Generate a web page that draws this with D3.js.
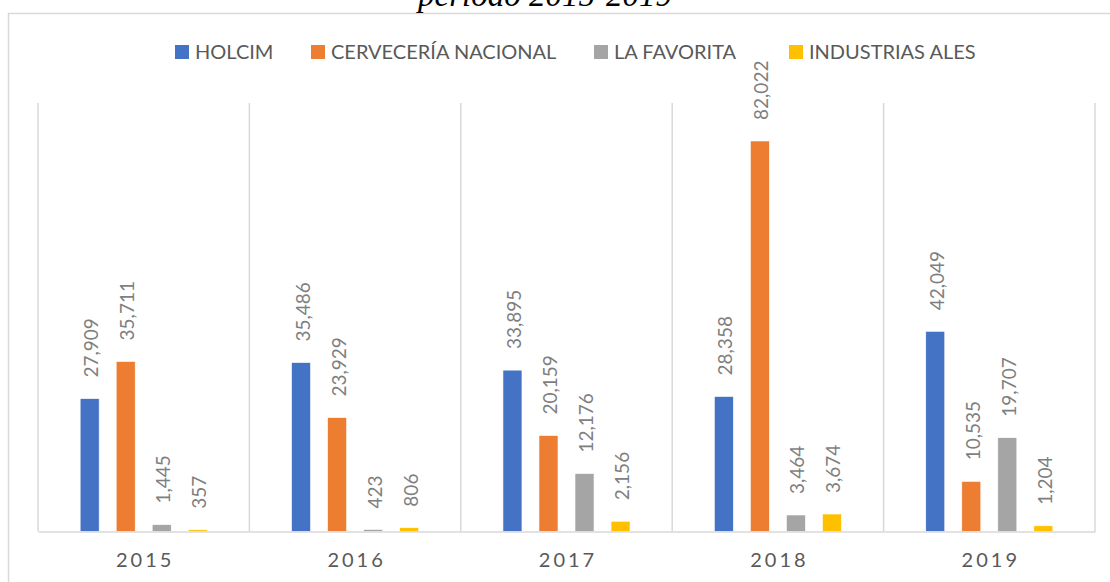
<!DOCTYPE html>
<meta charset="utf-8">
<style>
  body { margin: 0; background: #fff; }
  text { font-family: Lato, "Open Sans", sans-serif; }
  .title { font-family: "Liberation Serif", "Times New Roman", serif; font-style: italic; font-size: 33px; fill: #000; }
  .legend text { font-size: 20px; fill: #595959; }
  .cat { font-size: 20px; fill: #595959; letter-spacing: 3px; }
  .lbl { font-size: 19px; fill: #7f7f7f; }
</style>
<body>
<script src="https://d3js.org/d3.v7.min.js"></script>
<script>
// values
var years = ["2015", "2016", "2017", "2018", "2019"];
var seriesNames = ["HOLCIM", "CERVECERÍA NACIONAL", "LA FAVORITA", "INDUSTRIAS ALES"];
var holcim = [27909, 35486, 33895, 28358, 42049];
var cerveceria = [35711, 23929, 20159, 82022, 10535];
var favorita = [1445, 423, 12176, 3464, 19707];
var ales = [357, 806, 2156, 3674, 1204];
var colors = ["#4472c4", "#ed7d31", "#a5a5a5", "#ffc000"];

var allSeries = [holcim, cerveceria, favorita, ales];

var W = 1110, H = 582;
var plot = {left: 38, right: 1095, top: 103, bottom: 531.5};
// left edge of each legend swatch
var legendX = [175, 311, 594, 789];

var svg = d3.select("body").append("svg")
    .attr("width", W)
    .attr("height", H);

// outer chart border (right and bottom fall outside the picture)
svg.append("rect")
    .attr("x", 8.5).attr("y", 13.5)
    .attr("width", 1110).attr("height", 600)
    .attr("fill", "none")
    .attr("stroke", "#d9d9d9")
    .attr("stroke-width", 1.5);

// title, cut off at the top as in the source
svg.append("text")
    .attr("class", "title")
    .attr("x", 545).attr("y", 6)
    .attr("text-anchor", "middle")
    .text("período 2015-2019");

var x0 = d3.scaleBand()
    .domain(years)
    .range([plot.left, plot.right]);

var x1 = d3.scaleBand()
    .domain(d3.range(seriesNames.length))
    .range([0, x0.bandwidth()])
    .paddingInner(17 / 36)
    .paddingOuter(1.17);

var y = d3.scaleLinear()
    .domain([0, 90000])
    .range([plot.bottom, plot.top]);

// vertical grid lines between categories
var grid = years.map(function(d) { return x0(d); }).concat([plot.right]);
svg.append("g").selectAll("line")
    .data(grid)
    .enter().append("line")
    .attr("x1", function(d) { return d; })
    .attr("x2", function(d) { return d; })
    .attr("y1", plot.top)
    .attr("y2", plot.bottom)
    .attr("stroke", "#d9d9d9")
    .attr("stroke-width", 1.5);

// rows of data for the bars
var rows = [];
years.forEach(function(yr, i) {
    allSeries.forEach(function(s, j) {
        rows.push({year: yr, s: j, v: s[i]});
    });
});

svg.append("g").selectAll("rect")
    .data(rows)
    .enter().append("rect")
    .attr("x", function(d) { return x0(d.year) + x1(d.s); })
    .attr("y", function(d) { return y(d.v); })
    .attr("width", x1.bandwidth())
    .attr("height", function(d) { return y(0) - y(d.v); })
    .attr("fill", function(d) { return colors[d.s]; })
    .attr("stroke", "#fff")
    .attr("stroke-width", 0.6);

var fmt = d3.format(",");
svg.append("g").selectAll("text")
    .data(rows)
    .enter().append("text")
    .attr("class", "lbl")
    .attr("transform", function(d) {
        var cx = x0(d.year) + x1(d.s) + x1.bandwidth() / 2 + 1;
        return "translate(" + cx + "," + (y(d.v) - 21) + ") rotate(-90)";
    })
    .attr("dominant-baseline", "central")
    .text(function(d) { return fmt(d.v); });

// x axis line
var axis = svg.append("g")
    .attr("transform", "translate(0," + plot.bottom + ")")
    .call(d3.axisBottom(x0).tickSize(0).tickPadding(0));
axis.select(".domain").attr("stroke", "#d9d9d9").attr("stroke-width", 1.5);
axis.selectAll(".tick text").remove();

svg.append("g").selectAll("text")
    .data(years)
    .enter().append("text")
    .attr("class", "cat")
    .attr("x", function(d) { return x0(d) + x0.bandwidth() / 2 + 1.5; })
    .attr("y", 567)
    .attr("text-anchor", "middle")
    .text(function(d) { return d; });

// legend
var legend = svg.append("g").attr("class", "legend");
var items = legend.selectAll("g")
    .data(seriesNames)
    .enter().append("g")
    .attr("transform", function(d, i) { return "translate(" + legendX[i] + ",0)"; });
items.append("rect")
    .attr("width", 14).attr("height", 14)
    .attr("y", 45)
    .attr("fill", function(d, i) { return colors[i]; });
items.append("text")
    .attr("x", 20)
    .attr("y", 59)
    .text(function(d) { return d; });
</script>
</body>
